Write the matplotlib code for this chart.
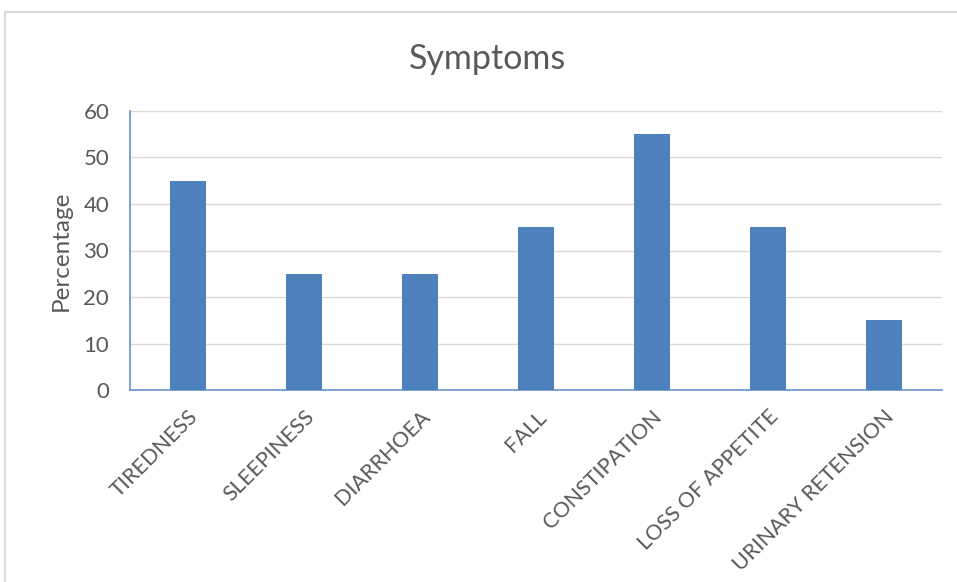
import matplotlib
matplotlib.use("Agg")
import matplotlib.pyplot as plt
from matplotlib.patches import Rectangle

symptoms = ["TIREDNESS", "SLEEPINESS", "DIARRHOEA", "FALL", "CONSTIPATION",
            "LOSS OF APPETITE", "URINARY RETENSION"]
percentage = [45, 25, 25, 35, 55, 35, 15]
y_ticks = [0, 10, 20, 30, 40, 50, 60]

plt.rcParams['font.family'] = ['Lato', 'DejaVu Sans']
text_color = "#595959"
bar_color = "#4F81BD"

fig = plt.figure(figsize=(9.57, 5.82), dpi=100)

# light chart-area frame
fig.patches.append(Rectangle((5 / 957, -0.1), 1.1, 1 - 12 / 582 + 0.1,
                             transform=fig.transFigure, fill=False,
                             edgecolor="#D9D9D9", linewidth=1.5))

ax = fig.add_axes([130 / 957, 1 - 390 / 582, 812 / 957, 279 / 582])
x = range(len(symptoms))
ax.bar(x, percentage, width=0.31, color=bar_color, zorder=3)

ax.set_xlim(-0.5, len(symptoms) - 0.5)
ax.set_ylim(0, 60)
ax.set_yticks(y_ticks)
ax.set_xticks(list(x))
ax.set_xticklabels(symptoms, rotation=45, ha="right", rotation_mode="anchor",
                   fontsize=15.5, color=text_color)
ax.tick_params(axis="y", labelsize=16, labelcolor=text_color, length=0, pad=15)
ax.tick_params(axis="x", length=0, pad=12)
ax.grid(axis="y", color="#D9D9D9", linewidth=1, zorder=0)

for side in ("top", "right"):
    ax.spines[side].set_visible(False)
for side in ("left", "bottom"):
    ax.spines[side].set_color("#6A93C8")
    ax.spines[side].set_linewidth(1.2)

ax.set_ylabel("Percentage", fontsize=17.5, color=text_color, labelpad=8)
fig.text(488 / 957, 1 - 59 / 582, "Symptoms", ha="center", va="center",
         fontsize=24.5, color=text_color)

fig.savefig("out.png", dpi=100)
